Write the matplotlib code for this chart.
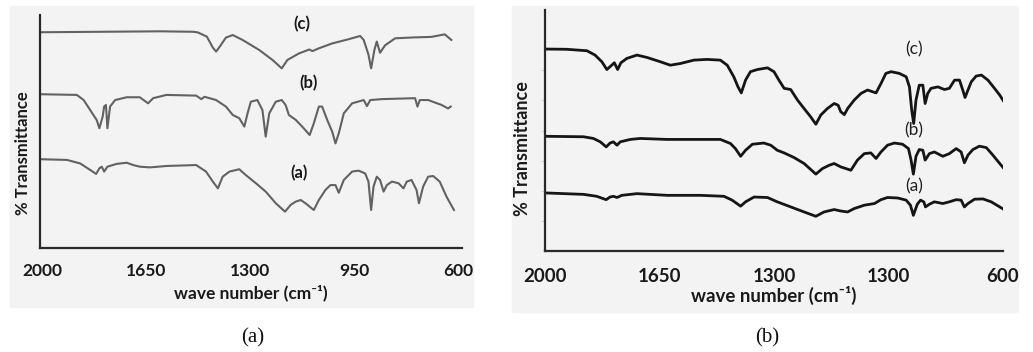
import matplotlib
matplotlib.use("Agg")
import matplotlib.pyplot as plt
from matplotlib.patches import Rectangle

plt.rcParams['font.family'] = ['Lato', 'DejaVu Sans']

# ---- panel (a): wave number (cm-1) vs transmittance (arbitrary units, 0-100)
a_c_wn = [2005, 1800, 1600, 1490, 1475, 1445, 1425, 1414, 1398, 1381, 1358, 1325, 1269, 1224,
          1193, 1174, 1135, 1100, 1090, 1068, 1023, 968, 929, 917, 901, 892, 881, 873, 862,
          845, 811, 744, 689, 644, 622]
a_c_t = [92.6, 92.8, 93.0, 92.8, 92.5, 90.7, 86.0, 84.3, 87.1, 90.3, 91.4, 89.3, 85.0, 80.7,
         77.1, 80.7, 83.5, 85.2, 84.5, 85.7, 87.8, 89.6, 91.0, 89.3, 83.0, 77.1, 85.0, 88.6, 83.8,
         87.0, 90.0, 90.4, 90.6, 91.7, 89.3]

a_b_wn = [2005, 1883, 1860, 1838, 1816, 1807, 1796, 1791, 1785, 1780, 1771, 1754, 1715, 1671,
          1643, 1626, 1581, 1481, 1464, 1453, 1414, 1381, 1358, 1336, 1319, 1308, 1297, 1275,
          1258, 1247, 1235, 1213, 1193, 1180, 1169, 1146, 1124, 1099, 1085, 1068, 1057, 1040,
          1023, 1012, 1001, 984, 956, 917, 906, 895, 856, 744, 736, 728, 700, 655, 633, 624]
a_b_t = [66.0, 65.7, 63.5, 59.2, 54.9, 51.4, 56.4, 60.7, 61.4, 51.4, 60.7, 63.5, 64.7, 64.7,
         62.1, 64.3, 65.7, 65.4, 63.9, 64.9, 63.5, 60.7, 57.1, 55.7, 52.1, 57.8, 62.8, 63.5,
         59.2, 47.8, 57.8, 62.8, 63.5, 61.4, 57.1, 55.0, 52.1, 48.5, 53.5, 60.7, 60.7, 55.0,
         49.9, 44.9, 49.2, 57.8, 62.1, 63.5, 60.9, 63.5, 63.9, 64.3, 60.7, 63.5, 63.5, 61.4,
         59.9, 60.7]

a_a_wn = [2005, 1916, 1872, 1838, 1818, 1807, 1799, 1791, 1780, 1749, 1715, 1693, 1671, 1637,
          1581, 1481, 1448, 1425, 1408, 1392, 1369, 1336, 1314, 1280, 1247, 1213, 1182, 1163,
          1146, 1129, 1113, 1085, 1068, 1046, 1029, 1012, 1001, 984, 956, 934, 912, 901, 892,
          884, 873, 862, 850, 839, 822, 800, 783, 772, 756, 739, 731, 717, 700, 683, 661, 638, 613]
a_a_t = [38.1, 37.8, 36.3, 33.5, 31.8, 34.2, 34.9, 32.8, 34.9, 36.1, 36.6, 35.6, 34.9, 34.6,
         35.2, 35.6, 32.8, 28.5, 25.6, 30.6, 32.8, 33.8, 31.3, 27.8, 24.2, 19.2, 15.6, 18.5,
         19.9, 20.6, 19.2, 16.3, 20.6, 24.9, 27.0, 27.0, 23.7, 29.2, 32.8, 33.2, 32.0, 28.5,
         16.3, 26.3, 30.6, 29.2, 24.2, 27.0, 28.5, 27.8, 25.6, 28.5, 29.2, 24.9, 19.2, 26.3,
         30.6, 30.9, 28.5, 22.0, 16.3]

# ---- panel (b)
b_c_wn = [2000, 1934, 1872, 1847, 1826, 1811, 1796, 1788, 1778, 1768, 1750, 1719, 1688, 1647,
          1617, 1586, 1545, 1505, 1464, 1443, 1423, 1410, 1400, 1387, 1372, 1351, 1320, 1300,
          1285, 1269, 1249, 1228, 1208, 1188, 1172, 1157, 1137, 1116, 1104, 1096, 1085, 1075,
          1055, 1034, 1014, 999, 988, 973, 958, 942, 917, 896, 886, 879, 873, 866, 856, 845,
          838, 830, 820, 799, 779, 764, 748, 733, 723, 716, 707, 697, 682, 666, 646, 626, 610, 597]
b_c_t = [83.8, 83.7, 83.1, 81.3, 78.5, 75.3, 77.1, 78.1, 75.3, 78.1, 79.9, 81.3, 80.3, 78.5,
         77.1, 77.8, 79.2, 79.5, 79.2, 77.1, 72.3, 68.1, 65.6, 70.9, 74.4, 75.3, 76.0, 74.4,
         70.9, 67.5, 67.0, 62.6, 59.1, 55.7, 52.6, 56.4, 59.1, 61.2, 60.5, 57.8, 56.6, 59.1,
         62.6, 65.4, 66.8, 66.1, 65.6, 69.5, 73.7, 74.4, 73.7, 72.3, 68.1, 58.4, 52.9, 62.6,
         68.8, 68.8, 61.2, 65.4, 67.5, 68.1, 67.0, 67.5, 70.9, 70.9, 66.8, 63.7, 66.8, 70.2,
         72.6, 73.0, 70.9, 67.5, 64.7, 61.9]

b_b_wn = [2000, 1882, 1852, 1831, 1813, 1801, 1791, 1780, 1770, 1739, 1709, 1627, 1525, 1464,
          1433, 1418, 1402, 1387, 1366, 1331, 1310, 1290, 1269, 1239, 1208, 1172, 1152, 1131,
          1116, 1096, 1080, 1065, 1045, 1024, 1004, 988, 973, 953, 932, 907, 889, 881, 874, 866,
          856, 845, 838, 825, 810, 784, 764, 743, 728, 718, 707, 692, 672, 651, 631, 610, 597]
b_b_t = [47.6, 47.4, 46.7, 45.3, 43.2, 44.8, 45.3, 43.9, 45.3, 46.3, 46.7, 46.3, 46.3, 46.3,
         44.6, 42.5, 39.3, 41.8, 44.3, 44.8, 43.9, 41.8, 40.7, 38.8, 36.3, 31.9, 34.2, 35.6,
         36.3, 34.9, 34.2, 33.5, 37.7, 40.4, 40.7, 38.4, 41.1, 43.9, 44.8, 44.3, 42.5, 37.7,
         31.9, 39.3, 42.1, 41.8, 37.7, 40.4, 41.1, 39.3, 40.4, 42.5, 41.1, 36.6, 39.8, 42.1,
         43.5, 42.9, 39.8, 36.3, 34.2]

b_a_wn = [2000, 1882, 1842, 1813, 1801, 1791, 1780, 1765, 1719, 1627, 1525, 1453, 1428, 1402,
          1387, 1361, 1320, 1290, 1249, 1208, 1172, 1147, 1116, 1096, 1075, 1055, 1024, 993,
          973, 953, 922, 896, 883, 874, 862, 852, 842, 837, 825, 810, 784, 764, 743, 728, 718,
          707, 687, 661, 636, 610, 597]
b_a_t = [24.1, 23.5, 22.7, 21.3, 22.4, 22.7, 22.2, 23.1, 23.8, 23.1, 23.1, 22.7, 21.1, 18.6,
         20.4, 22.4, 22.2, 20.4, 18.3, 16.2, 14.4, 16.2, 17.2, 16.6, 16.2, 17.6, 19.0, 19.7,
         21.3, 22.2, 22.0, 21.1, 19.0, 14.8, 19.4, 21.1, 20.4, 18.3, 19.4, 20.4, 19.7, 20.4,
         21.3, 21.1, 18.3, 19.7, 21.5, 21.6, 20.4, 18.3, 17.2]

ticks = [2000, 1650, 1300, 950, 600]
labels_a = ['2000', '1650', '1300', '950', '600']
labels_b = ['2000', '1650', '1300', '1300', '600']

fig = plt.figure(figsize=(10.33, 3.52), dpi=100)
fig.patches.append(Rectangle((10 / 1033, 1 - 307 / 352), 463 / 1033, 301 / 352,
                             transform=fig.transFigure, color='#f3f3f3', zorder=-1))
fig.patches.append(Rectangle((512 / 1033, 1 - 312 / 352), 506 / 1033, 306 / 352,
                             transform=fig.transFigure, color='#f3f3f3', zorder=-1))

# panel (a)
ax1 = fig.add_axes([40 / 1033, 1 - 248 / 352, 422 / 1033, 233 / 352])
ax1.patch.set_alpha(0)
ax1.plot(a_c_wn, a_c_t, color='#626262', lw=1.5)
ax1.plot(a_b_wn, a_b_t, color='#626262', lw=1.5)
ax1.plot(a_a_wn, a_a_t, color='#626262', lw=1.5)
ax1.set_xlim(2007, 586)
ax1.set_ylim(0, 100)
ax1.set_xticks(ticks)
ax1.set_xticklabels(labels_a, fontweight='bold', fontsize=12.5, color='#1a1a1a')
ax1.tick_params(axis='x', length=0, pad=11)
ax1.set_yticks([])
for s in ['top', 'right']:
    ax1.spines[s].set_visible(False)
for s in ['left', 'bottom']:
    ax1.spines[s].set_color('#2a2a2a')
    ax1.spines[s].set_linewidth(1.6)
ax1.set_xlabel('wave number (cm⁻¹)', fontweight='bold', fontsize=12.5, color='#1a1a1a', labelpad=4)
ax1.set_ylabel('% Transmittance', fontweight='bold', fontsize=12, color='#1a1a1a')
ax1.yaxis.set_label_coords(-0.021, 0.408)
ax1.text(1124, 96.1, '(c)', fontweight='bold', fontsize=12, ha='center', va='center', color='#1a1a1a')
ax1.text(1102, 70.7, '(b)', fontweight='bold', fontsize=12, ha='center', va='center', color='#1a1a1a')
ax1.text(1135, 32.0, '(a)', fontweight='bold', fontsize=12, ha='center', va='center', color='#1a1a1a')

# panel (b)
ax2 = fig.add_axes([545 / 1033, 1 - 251 / 352, 458 / 1033, 241 / 352])
ax2.patch.set_alpha(0)
ax2.plot(b_c_wn, b_c_t, color='#151515', lw=2.0)
ax2.plot(b_b_wn, b_b_t, color='#151515', lw=2.0)
ax2.plot(b_a_wn, b_a_t, color='#151515', lw=2.0)
ax2.set_xlim(2000, 600)
ax2.set_ylim(0, 100)
ax2.set_xticks(ticks)
ax2.set_xticklabels(labels_b, fontweight='bold', fontsize=13.5, color='#1a1a1a')
ax2.tick_params(axis='x', length=0, pad=12)
ax2.set_yticks([12.5, 25, 37.5, 50, 62.5, 75])
ax2.set_yticklabels([])
ax2.tick_params(axis='y', length=3, width=0.8, color='#d0d0d0')
for s in ['top', 'right']:
    ax2.spines[s].set_visible(False)
for s in ['left', 'bottom']:
    ax2.spines[s].set_color('#2a2a2a')
    ax2.spines[s].set_linewidth(1.6)
ax2.set_xlabel('wave number (cm⁻¹)', fontweight='bold', fontsize=13.5, color='#1a1a1a', labelpad=1)
ax2.set_ylabel('% Transmittance', fontweight='bold', fontsize=13, color='#1a1a1a')
ax2.yaxis.set_label_coords(-0.031, 0.427)
ax2.text(873, 83.7, '(c)', fontsize=12.5, ha='center', va='center', color='#222222')
ax2.text(873, 50.1, '(b)', fontsize=12.5, ha='center', va='center', color='#222222')
ax2.text(873, 26.9, '(a)', fontsize=12.5, ha='center', va='center', color='#222222')

# captions
fig.text(253 / 1033, 1 - 338 / 352, '(a)', fontsize=15, family='Liberation Serif',
         ha='center', va='center', color='#111111')
fig.text(767 / 1033, 1 - 338 / 352, '(b)', fontsize=15, family='Liberation Serif',
         ha='center', va='center', color='#111111')

fig.savefig('out.png', dpi=100)
